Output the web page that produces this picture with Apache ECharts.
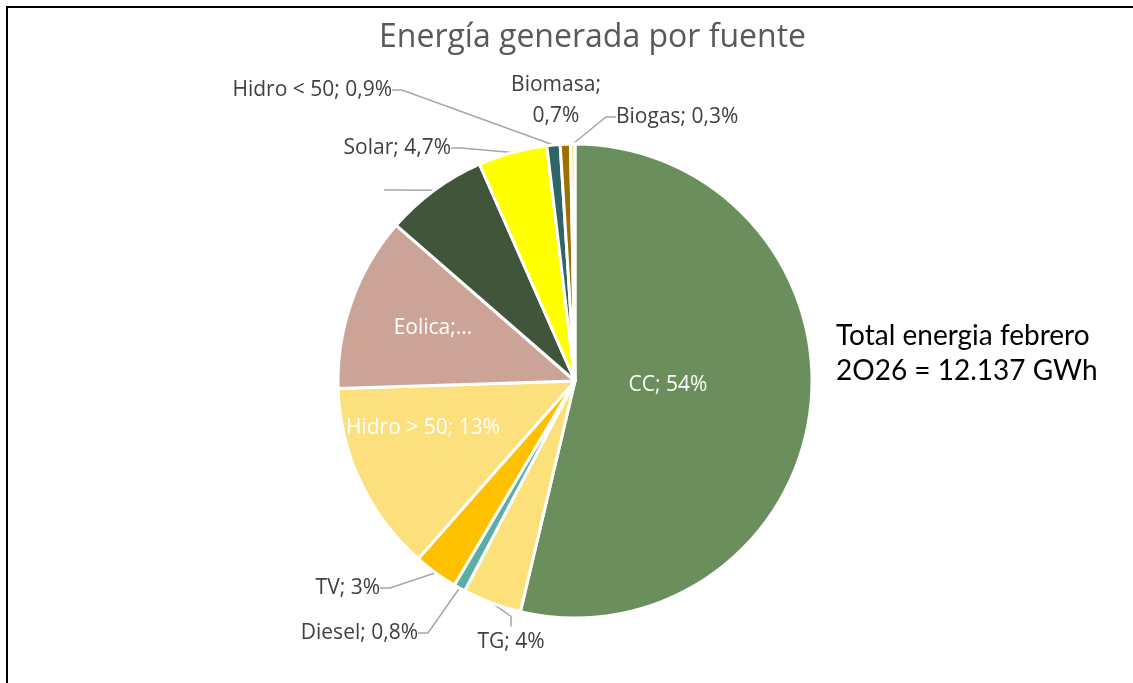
<!DOCTYPE html>
<html>
<head>
<meta charset="utf-8">
<script src="https://cdn.jsdelivr.net/npm/echarts@6/dist/echarts.min.js"></script>
<style>
  * { margin: 0; padding: 0; }
  body { background: #fff; }
  #frame {
    position: absolute;
    left: 6px;
    top: 6px;
    width: 1140px;
    height: 690px;
    border-top: 2px solid #000;
    border-left: 2px solid #000;
  }
  #chart {
    position: absolute;
    left: 0;
    top: 0;
    width: 1133px;
    height: 683px;
  }
</style>
</head>
<body>
<div id="frame"></div>
<div id="chart"></div>
<script>
// fuentes, en orden horario desde arriba
const categories = ["CC", "TG", "Diesel", "TV", "Hidro > 50", "Eolica", "Otra", "Solar", "Hidro < 50", "Biomasa", "Biogas"];
// participación (%)
const shares = [53.7, 4, 0.8, 3, 13, 11.9, 7, 4.7, 0.9, 0.7, 0.3];
// texto de las etiquetas tal como aparece
const labelTexts = ["CC; 54%", "TG; 4%", "Diesel; 0,8%", "TV; 3%", "Hidro > 50; 13%", "Eolica;...", " ", "Solar; 4,7%", "Hidro < 50; 0,9%", "Biomasa;\n0,7%", "Biogas; 0,3%"];

const colors = ["#6A8F5C", "#FCE07A", "#5BADA6", "#FFC000", "#FCE07D", "#CCA497", "#40553A", "#FFFF00", "#2F6566", "#9E7000", "#FFE38A"];
const insideIdx = [0, 4, 5];

// posición de cada etiqueta (x, y, align)
const labelPos = {
  0: [668, 385, "center"],
  1: [511, 642, "center"],
  2: [418, 633, "right"],
  3: [380, 588, "right"],
  4: [423, 428, "center"],
  5: [433, 328, "center"],
  6: [384, 190, "right"],
  7: [451, 148, "right"],
  8: [392, 90, "right"],
  9: [556, 101, "center"],
  10: [616, 117, "left"],
};

const chart = echarts.init(document.getElementById("chart"));

const data = categories.map((name, i) => {
  const inside = insideIdx.includes(i);
  return {
    name: name,
    value: shares[i],
    itemStyle: { color: colors[i] },
    label: {
      position: inside ? "inside" : "outside",
      color: inside ? "#fff" : "#404040",
    },
    labelLine: { show: !inside && i !== 9 },
  };
});

const option = {
  animation: false,
  title: {
    text: "Energía generada por fuente",
    left: 374,
    top: 17,
    textStyle: {
      fontFamily: "Open Sans",
      fontWeight: "normal",
      fontSize: 32,
      color: "#595959",
    },
  },
  graphic: [
    {
      type: "text",
      left: 836,
      top: 318,
      style: {
        text: "Total energia febrero\n2O26 = 12.137 GWh",
        fontFamily: "Lato",
        fontSize: 28,
        lineHeight: 35,
        fill: "#000",
      },
    },
  ],
  series: [
    {
      type: "pie",
      center: [575, 381],
      radius: [0, 237],
      startAngle: 90,
      clockwise: true,
      avoidLabelOverlap: false,
      itemStyle: { borderColor: "#fff", borderWidth: 3 },
      label: {
        show: true,
        fontFamily: "Open Sans",
        fontSize: 21,
        lineHeight: 31,
        formatter: (p) => labelTexts[p.dataIndex],
      },
      labelLine: {
        show: true,
        length: 15,
        length2: 10,
        lineStyle: { color: "#A6A6A6", width: 1.5 },
      },
      labelLayout: (params) => {
        const pos = labelPos[params.dataIndex];
        return {
          x: pos[0],
          y: pos[1],
          align: pos[2],
          verticalAlign: "middle",
        };
      },
      data: data,
    },
  ],
};

chart.setOption(option);
</script>
</body>
</html>
